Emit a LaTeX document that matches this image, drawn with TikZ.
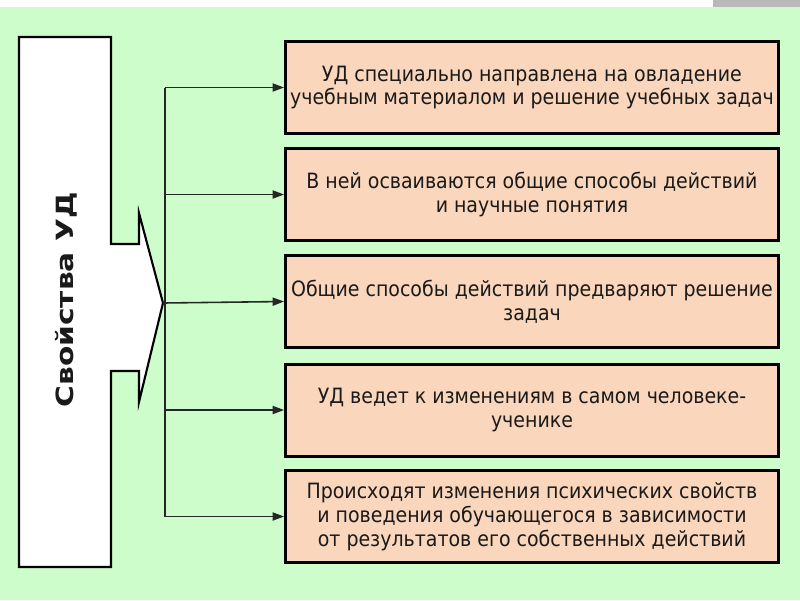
\documentclass[tikz,border=0pt]{standalone}
\usepackage{fontspec}
\setmainfont{DejaVu Sans Condensed}
\newfontfamily\titlefont{DejaVu Sans}
\usetikzlibrary{arrows.meta,positioning}
\definecolor{ink}{HTML}{1A1A1A}
\definecolor{bgfill}{HTML}{CCFDCB}
\definecolor{boxfill}{HTML}{FAD7BC}
\definecolor{stripgray}{HTML}{B9B9B9}

\begin{document}
\begin{tikzpicture}[
  x=0.02cm, y=-0.02cm,
  prop/.style={
    draw=black, fill=boxfill, line width=1.7pt,
    minimum width=9.86cm, minimum height=1.84cm,
    align=center, inner sep=2pt, text=ink,
    font=\fontsize{12}{13.6}\selectfont
  },
  outline/.style={draw=black, fill=white, line width=1.2pt, line join=miter},
  flow/.style={-{Triangle[length=6.5pt,width=4.6pt]}, line width=0.9pt, draw=black!85},
  bus/.style={line width=0.9pt, draw=black!85}
]

%% ---------- background ----------
\useasboundingbox (0,0) rectangle (800,600);
\fill[white] (0,0) rectangle (800,7);
\fill[stripgray] (713,0) rectangle (800,7);
\fill[bgfill] (0,7) rectangle (800,600);

%% ---------- left block ----------
\draw[outline] (19,37) -- (111,37) -- (111,244) -- (139,244) -- (139,213)
  -- (163,303) -- (139,402) -- (139,371) -- (111,371) -- (111,567)
  -- (19,567) -- cycle;
\node[rotate=90, font=\titlefont\fontsize{13.5}{14}\selectfont\bfseries, text=ink] (title) at (66,300)
  {\scalebox{1.25}[1]{Свойства УД}};
\coordinate (tip) at (163,303);
\coordinate (bus) at (165,303);

%% ---------- properties ----------
\node[prop] (p1) at (532,87.5)
  {УД специально направлена на овладение\\учебным материалом и решение учебных задач};
\node[prop] (p2) at (532,194.5)
  {В ней осваиваются общие способы действий\\и научные понятия};
\node[prop] (p3) at (532,301.5)
  {Общие способы действий предваряют решение\\задач};
\node[prop] (p4) at (532,410)
  {УД ведет к изменениям в самом человеке-\\ученике};
\node[prop] (p5) at (532,516.5)
  {Происходят изменения психических свойств\\и поведения обучающегося в зависимости\\от результатов его собственных действий};

%% ---------- connectors ----------
\draw[bus] (p1.west -| bus) -- (p5.west -| bus);
\draw[flow] (p1.west -| bus) -- (p1.west);
\draw[flow] (p2.west -| bus) -- (p2.west);
\draw[flow] (tip) -- (p3.west);
\draw[flow] (p4.west -| bus) -- (p4.west);
\draw[flow] (p5.west -| bus) -- (p5.west);

\end{tikzpicture}
\end{document}
